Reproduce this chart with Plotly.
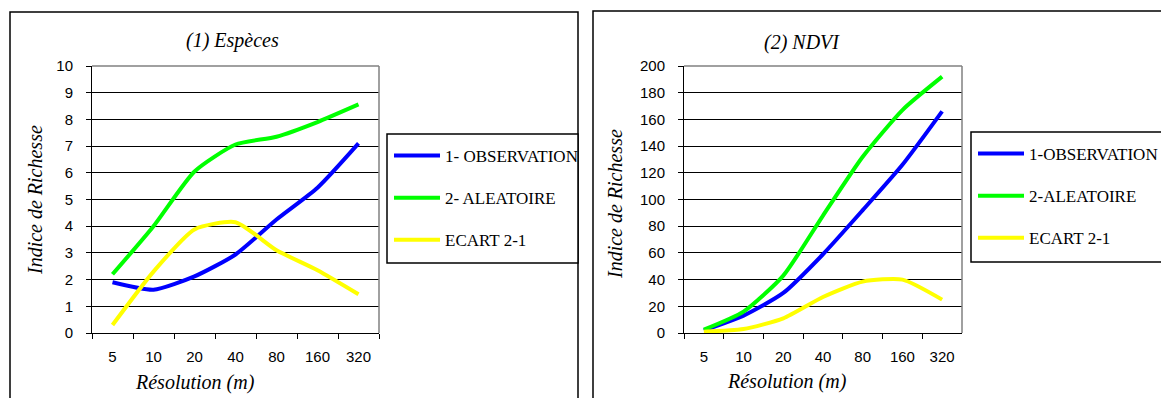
import plotly.graph_objects as go

W, H = 1161, 398

# ---- data ----
categories = ["5", "10", "20", "40", "80", "160", "320"]

esp_observation = [1.9, 1.62, 2.12, 2.94, 4.25, 5.44, 7.1]
esp_aleatoire = [2.2, 4.0, 6.05, 7.06, 7.35, 7.9, 8.56]
esp_ecart = [0.3, 2.3, 3.88, 4.15, 3.1, 2.35, 1.45]

ndvi_observation = [2, 13, 30, 59, 92, 126, 166]
ndvi_aleatoire = [2.5, 16, 43, 88, 132, 167, 192]
ndvi_ecart = [1, 3, 11, 27, 38.5, 40, 25]

esp_names = ["1- OBSERVATION", "2- ALEATOIRE", "ECART 2-1"]
ndvi_names = ["1-OBSERVATION", "2-ALEATOIRE", "ECART 2-1"]
colors = ["#0000ff", "#00ff00", "#ffff00"]

titles = ["(1) Espèces", "(2) NDVI"]
x_title = "Résolution (m)"
y_title = "Indice de Richesse"


def px(x):
    return x / W


def py(y):
    return 1 - y / H


fig = go.Figure()

for vals, name, col in zip([esp_observation, esp_aleatoire, esp_ecart], esp_names, colors):
    fig.add_trace(go.Scatter(x=categories, y=vals, name=name, mode="lines",
                             line=dict(color=col, width=4, shape="spline", smoothing=0.6),
                             xaxis="x", yaxis="y", legend="legend", legendgroup="l" + name))
for vals, name, col in zip([ndvi_observation, ndvi_aleatoire, ndvi_ecart], ndvi_names, colors):
    fig.add_trace(go.Scatter(x=categories, y=vals, name=name, mode="lines",
                             line=dict(color=col, width=4, shape="spline", smoothing=0.6),
                             xaxis="x2", yaxis="y2", legend="legend2", legendgroup="r" + name))

tick_font = dict(family="Liberation Sans, Arial, sans-serif", size=15, color="black")
serif_it = dict(family="Liberation Serif, Times New Roman, serif", size=20, color="black", style="italic")

xcommon = dict(type="category", tickson="boundaries", ticks="outside", ticklen=5, tickwidth=1,
               tickcolor="black", showgrid=False, showline=True, linecolor="black", linewidth=1,
               range=[-0.5, 6.5], tickfont=tick_font, ticklabelstandoff=10, zeroline=False,
               categoryorder="array", categoryarray=categories, automargin=False)
ycommon = dict(ticks="outside", ticklen=5, tickwidth=1, tickcolor="black", showgrid=True,
               gridcolor="black", gridwidth=1, showline=True, linecolor="black", linewidth=1,
               zeroline=False, tickfont=tick_font, ticklabelstandoff=10, automargin=False)

ydom = [py(333), py(66)]
legend_font = dict(family="Liberation Serif, Times New Roman, serif", size=17, color="black")
fig.update_layout(
    width=W, height=H, margin=dict(l=0, r=0, t=0, b=0, pad=0, autoexpand=False),
    paper_bgcolor="white", plot_bgcolor="#c0c0c0",
    showlegend=True,
    xaxis=dict(domain=[px(92), px(379)], anchor="y", **xcommon),
    yaxis=dict(domain=ydom, anchor="x", range=[0, 10], dtick=1, **ycommon),
    xaxis2=dict(domain=[px(684), px(962)], anchor="y2", **xcommon),
    yaxis2=dict(domain=ydom, anchor="x2", range=[0, 200], dtick=20, **ycommon),
    legend=dict(x=px(389), y=py(138), xanchor="left", yanchor="top", bgcolor="rgba(0,0,0,0)",
                borderwidth=0, font=legend_font, tracegroupgap=17, itemclick=False, itemwidth=46),
    legend2=dict(x=px(973), y=py(136), xanchor="left", yanchor="top", bgcolor="rgba(0,0,0,0)",
                 borderwidth=0, font=legend_font, tracegroupgap=17, itemclick=False, itemwidth=46),
    hovermode=False,
)

shapes = [
    # chart frames
    dict(type="rect", xref="paper", yref="paper", x0=px(10), x1=px(578), y0=-0.2, y1=py(12),
         line=dict(color="black", width=1.5), fillcolor="white", layer="below"),
    dict(type="rect", xref="paper", yref="paper", x0=px(593), x1=1.3, y0=-0.2, y1=py(11),
         line=dict(color="black", width=1.5), fillcolor="white", layer="below"),
    # legend frames
    dict(type="rect", xref="paper", yref="paper", x0=px(387), x1=px(578), y0=py(263), y1=py(134),
         line=dict(color="black", width=1.5), fillcolor="white", layer="below"),
    dict(type="rect", xref="paper", yref="paper", x0=px(971), x1=1.3, y0=py(262), y1=py(132),
         line=dict(color="black", width=1.5), fillcolor="white", layer="below"),
]
# grey top/right borders of plot areas
for xa, ya in [("x", "y"), ("x2", "y2")]:
    shapes.append(dict(type="line", xref=xa + " domain", yref=ya + " domain", x0=0, x1=1, y0=1, y1=1,
                       line=dict(color="#808080", width=1.5), layer="above"))
    shapes.append(dict(type="line", xref=xa + " domain", yref=ya + " domain", x0=1, x1=1, y0=0, y1=1,
                       line=dict(color="#808080", width=1.5), layer="above"))
fig.update_layout(shapes=shapes)

def ann(text, x, y, angle=0):
    return dict(text=text, x=px(x), y=py(y), xref="paper", yref="paper", showarrow=False,
                font=serif_it, xanchor="center", yanchor="middle", textangle=angle)

annotations = [
    ann(titles[0], 232, 40),
    ann(titles[1], 802, 42),
    ann(x_title, 195, 382),
    ann(x_title, 787, 381),
    ann(y_title, 35, 200, -90),
    ann(y_title, 615, 204, -90),
]
fig.update_layout(annotations=annotations)

fig.write_html("out.html", config={"displayModeBar": False},
               post_script="document.body.style.margin='0';document.body.style.overflow='hidden';")
